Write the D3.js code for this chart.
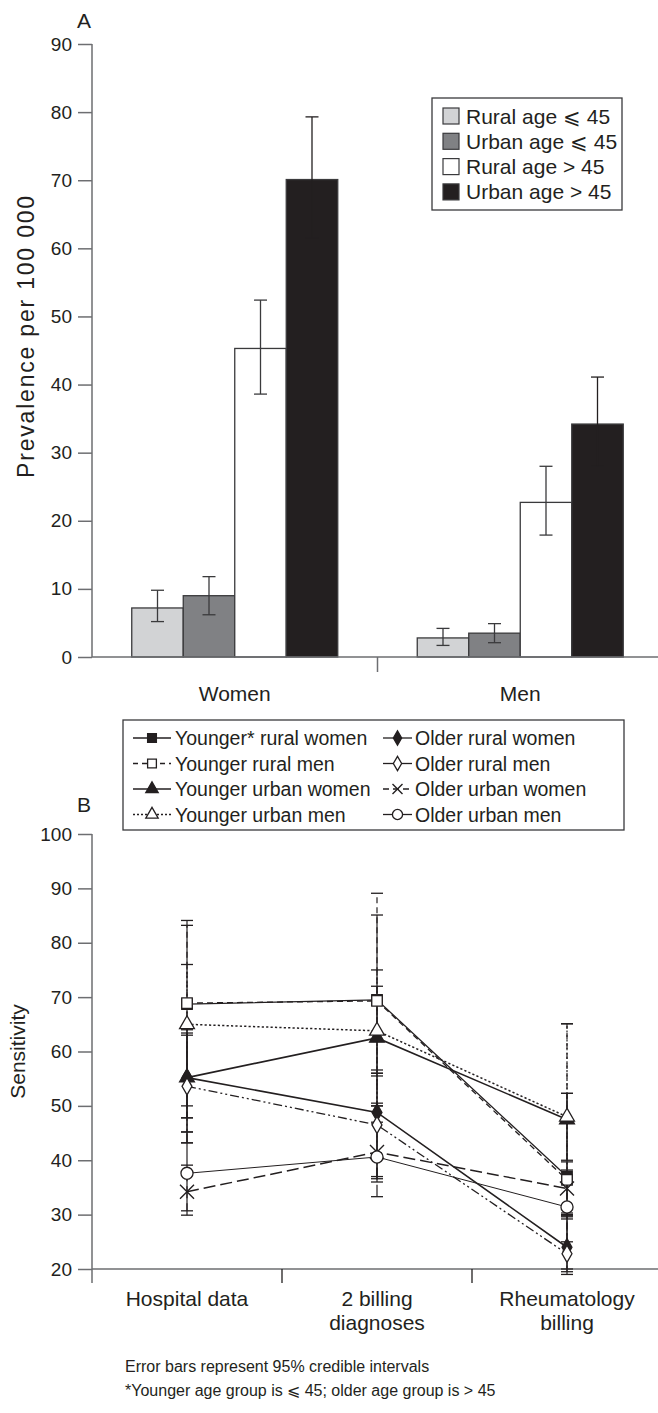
<!DOCTYPE html>
<html><head><meta charset="utf-8">
<script src="https://cdn.jsdelivr.net/npm/d3@7"></script>
<style>
html,body{margin:0;padding:0;background:#fff;}
svg text{font-family:"Liberation Sans",Arial,Helvetica,sans-serif;fill:#231f20;}
</style></head>
<body>
<script>
// ---------- Panel A data ----------
const groupsA = ["Women", "Men"];
const seriesA = ["Rural age \u2a7d 45", "Urban age \u2a7d 45", "Rural age > 45", "Urban age > 45"];
const colorsA = ["#d2d3d5", "#808184", "#ffffff", "#231f20"];
const prevWomen = [7.2, 9.0, 45.3, 70.1];
const lowWomen = [5.2, 6.2, 38.6, 61.5];
const highWomen = [9.8, 11.8, 52.4, 79.3];
const prevMen = [2.8, 3.5, 22.7, 34.2];
const lowMen = [1.7, 2.1, 17.9, 28.0];
const highMen = [4.2, 4.9, 28.0, 41.1];
const ticksA = [0, 10, 20, 30, 40, 50, 60, 70, 80, 90];

// ---------- Panel B data ----------
const categoriesB = ["Hospital data", "2 billing diagnoses", "Rheumatology billing"];
const categoryLinesB = [["Hospital data"], ["2 billing", "diagnoses"], ["Rheumatology", "billing"]];
const seriesB = ["Younger* rural women", "Younger rural men", "Younger urban women", "Younger urban men",
                 "Older rural women", "Older rural men", "Older urban women", "Older urban men"];
const valYoungerRuralWomen = [68.7, 69.5, 37.0];
const valYoungerRuralMen   = [68.9, 69.3, 36.4];
const valYoungerUrbanWomen = [55.2, 62.5, 47.5];
const valYoungerUrbanMen   = [65.0, 63.8, 48.0];
const valOlderRuralWomen   = [55.2, 48.8, 24.0];
const valOlderRuralMen     = [53.6, 46.5, 22.8];
const valOlderUrbanWomen   = [34.2, 41.5, 34.8];
const valOlderUrbanMen     = [37.6, 40.6, 31.4];
const lowYoungerRuralWomen = [47.8, 56.6, 29.6];
const highYoungerRuralWomen= [84.1, 85.1, 52.3];
const lowYoungerRuralMen   = [47.8, 56.0, 20.0];
const highYoungerRuralMen  = [83.2, 89.1, 65.1];
const lowYoungerUrbanWomen = [43.2, 50.0, 40.0];
const highYoungerUrbanWomen= [64.0, 72.0, 52.3];
const lowYoungerUrbanMen   = [50.0, 50.5, 30.3];
const highYoungerUrbanMen  = [76.0, 75.0, 65.1];
const lowOlderRuralWomen   = [45.2, 36.6, 19.5];
const highOlderRuralWomen  = [63.4, 56.0, 29.8];
const lowOlderRuralMen     = [43.2, 37.0, 19.0];
const highOlderRuralMen    = [63.0, 55.5, 29.2];
const lowOlderUrbanWomen   = [29.9, 33.3, 30.0];
const highOlderUrbanWomen  = [39.1, 50.0, 39.7];
const lowOlderUrbanMen     = [30.7, 36.0, 25.0];
const highOlderUrbanMen    = [45.2, 47.0, 38.2];
const ticksB = [20, 30, 40, 50, 60, 70, 80, 90, 100];

// ---------- build ----------
const W = 658, H = 1413;
const ink = "#231f20", axisCol = "#6d6e71";
const svg = d3.select("body").append("svg").attr("width", W).attr("height", H);

// ===== Panel A =====
const yA = d3.scaleLinear().domain([0, 90]).range([657, 44]);
const x0A = d3.scaleBand().domain(groupsA).range([92, 663]);
const barsTotal = 206;
const x1A = d3.scaleBand().domain(seriesA)
  .range([(x0A.bandwidth() - barsTotal) / 2, (x0A.bandwidth() + barsTotal) / 2]);

const gA = svg.append("g");
const yAxisA = d3.axisLeft(yA).tickValues(ticksA).tickSize(14).tickPadding(6).tickFormat(d3.format("d"));
gA.append("g").attr("transform", "translate(92,0)").call(yAxisA)
  .call(g => { g.selectAll("path,line").attr("stroke", axisCol).attr("stroke-width", 1.5);
               g.select(".domain").attr("d", `M0,${yA(90)}V${yA(0)}`);
               g.selectAll("text").style("font-size", "19px").attr("fill", ink); });

const dataA = groupsA.map((g, gi) => seriesA.map((s, si) => ({
  group: g, series: s, color: colorsA[si],
  v: gi === 0 ? prevWomen[si] : prevMen[si],
  lo: gi === 0 ? lowWomen[si] : lowMen[si],
  hi: gi === 0 ? highWomen[si] : highMen[si]
}))).flat();

const barG = gA.append("g");
barG.selectAll("rect").data(dataA).join("rect")
  .attr("x", d => x0A(d.group) + x1A(d.series))
  .attr("y", d => yA(d.v))
  .attr("width", x1A.bandwidth())
  .attr("height", d => yA(0) - yA(d.v))
  .attr("fill", d => d.color).attr("stroke", "#3a3a3c").attr("stroke-width", 1.3);

const errG = gA.append("g").attr("stroke-width", 1.3);
dataA.forEach(d => {
  const cx = x0A(d.group) + x1A(d.series) + x1A.bandwidth() / 2;
  const col = d.color === "#231f20" ? ink : "#3a3a3c";
  errG.append("line").attr("x1", cx).attr("x2", cx).attr("y1", yA(d.lo)).attr("y2", yA(d.hi)).attr("stroke", col);
  errG.append("line").attr("x1", cx - 6.5).attr("x2", cx + 6.5).attr("y1", yA(d.hi)).attr("y2", yA(d.hi)).attr("stroke", col);
  errG.append("line").attr("x1", cx - 6.5).attr("x2", cx + 6.5).attr("y1", yA(d.lo)).attr("y2", yA(d.lo)).attr("stroke", col);
});

// x axis A
const xAxisA = gA.append("g");
xAxisA.append("line").attr("x1", 92).attr("x2", W).attr("y1", yA(0)).attr("y2", yA(0))
  .attr("stroke", axisCol).attr("stroke-width", 1.5);
xAxisA.append("line").attr("x1", x0A("Men")).attr("x2", x0A("Men")).attr("y1", yA(0)).attr("y2", yA(0) + 15)
  .attr("stroke", axisCol).attr("stroke-width", 1.5);
groupsA.forEach(g => {
  gA.append("text").attr("x", x0A(g) + x0A.bandwidth() / 2).attr("y", 701)
    .attr("text-anchor", "middle").style("font-size", "21px").text(g);
});
gA.append("text").attr("x", 77).attr("y", 28).style("font-size", "21px").text("A");
gA.append("text").attr("transform", `translate(34,336) rotate(-90)`)
  .attr("text-anchor", "middle").style("font-size", "23px").style("letter-spacing", "1.8px")
  .text("Prevalence per 100 000");

// legend A
const legA = gA.append("g");
legA.append("rect").attr("x", 432).attr("y", 98).attr("width", 190).attr("height", 112)
  .attr("fill", "#fff").attr("stroke", "#3a3a3c").attr("stroke-width", 1.3);
seriesA.forEach((s, i) => {
  const cy = 116 + i * 25.3;
  legA.append("rect").attr("x", 443).attr("y", cy - 8).attr("width", 16).attr("height", 16)
    .attr("fill", colorsA[i]).attr("stroke", "#3a3a3c").attr("stroke-width", 1.2);
  legA.append("text").attr("x", 466).attr("y", cy + 7.5).style("font-size", "21px").text(s);
});

// ===== Panel B =====
const yB = d3.scaleLinear().domain([20, 100]).range([1269, 834]);
const xB = d3.scaleBand().domain(categoriesB).range([92, 662]);
const gB = svg.append("g");

const yAxisB = d3.axisLeft(yB).tickValues(ticksB).tickSize(14).tickPadding(6).tickFormat(d3.format("d"));
gB.append("g").attr("transform", "translate(92,0)").call(yAxisB)
  .call(g => { g.selectAll("path,line").attr("stroke", axisCol).attr("stroke-width", 1.5);
               g.select(".domain").attr("d", `M0,${yB(100)}V${yB(20) + 14}`);
               g.selectAll("text").style("font-size", "19px").attr("fill", ink); });
const xAxB = gB.append("g");
xAxB.append("line").attr("x1", 92).attr("x2", W).attr("y1", yB(20)).attr("y2", yB(20))
  .attr("stroke", axisCol).attr("stroke-width", 1.5);
categoriesB.slice(1).forEach(c => {
  xAxB.append("line").attr("x1", xB(c)).attr("x2", xB(c)).attr("y1", yB(20)).attr("y2", yB(20) + 14)
    .attr("stroke", ink).attr("stroke-width", 1.3);
});
categoriesB.forEach((c, i) => {
  const t = gB.append("text").attr("x", xB(c) + xB.bandwidth() / 2).attr("y", 1306)
    .attr("text-anchor", "middle").style("font-size", "21px");
  categoryLinesB[i].forEach((ln, j) => t.append("tspan").attr("x", xB(c) + xB.bandwidth() / 2).attr("dy", j === 0 ? 0 : 24).text(ln));
});
gB.append("text").attr("x", 77).attr("y", 812).style("font-size", "21px").text("B");
gB.append("text").attr("transform", `translate(25,${(yB(20) + yB(100)) / 2}) rotate(-90)`)
  .attr("text-anchor", "middle").style("font-size", "21px").text("Sensitivity");

// symbols
const xPath = s => `M${-s},${-s}L${s},${s}M${-s},${s}L${s},${-s}`;
const styleB = [
  { sym: d3.symbolSquare, size: 110, fill: ink, dash: null, w: 1.3 },
  { sym: d3.symbolSquare, size: 110, fill: "#fff", dash: "6,4", w: 1.3 },
  { sym: d3.symbolTriangle, size: 95, fill: ink, dash: null, w: 1.6 },
  { sym: d3.symbolTriangle, size: 95, fill: "#fff", dash: "2.2,2.2", w: 1.5 },
  { sym: d3.symbolDiamond, size: 85, fill: ink, dash: null, w: 1.6 },
  { sym: d3.symbolDiamond, size: 85, fill: "#fff", dash: "9,3,2,3,2,3", w: 1.3 },
  { sym: "x", size: 7, fill: "none", dash: "12,5", w: 1.5 },
  { sym: d3.symbolCircle, size: 115, fill: "#fff", dash: null, w: 1.0 }
];
const valsB = [valYoungerRuralWomen, valYoungerRuralMen, valYoungerUrbanWomen, valYoungerUrbanMen,
               valOlderRuralWomen, valOlderRuralMen, valOlderUrbanWomen, valOlderUrbanMen];
const lowsB = [lowYoungerRuralWomen, lowYoungerRuralMen, lowYoungerUrbanWomen, lowYoungerUrbanMen,
               lowOlderRuralWomen, lowOlderRuralMen, lowOlderUrbanWomen, lowOlderUrbanMen];
const highsB = [highYoungerRuralWomen, highYoungerRuralMen, highYoungerUrbanWomen, highYoungerUrbanMen,
                highOlderRuralWomen, highOlderRuralMen, highOlderUrbanWomen, highOlderUrbanMen];
const cx = c => xB(c) + xB.bandwidth() / 2;
const line = d3.line().x(d => cx(d.c)).y(d => yB(d.v));

const drawSym = (g, st, x, y) => {
  if (st.sym === "x") {
    g.append("path").attr("d", xPath(st.size)).attr("transform", `translate(${x},${y})`)
      .attr("stroke", ink).attr("stroke-width", 1.4).attr("fill", "none");
  } else {
    g.append("path").attr("d", d3.symbol().type(st.sym).size(st.size)())
      .attr("transform", `translate(${x},${y})`)
      .attr("fill", st.fill).attr("stroke", ink).attr("stroke-width", 1.3);
  }
};

const linesG = gB.append("g"), errBG = gB.append("g"), symG = gB.append("g");
seriesB.forEach((s, i) => {
  const st = styleB[i];
  const pts = categoriesB.map((c, k) => ({ c, v: valsB[i][k], lo: lowsB[i][k], hi: highsB[i][k] }));
  linesG.append("path").attr("d", line(pts)).attr("fill", "none").attr("stroke", ink)
    .attr("stroke-width", st.w).attr("stroke-dasharray", st.dash);
  pts.forEach(p => {
    const x = cx(p.c);
    errBG.append("line").attr("x1", x).attr("x2", x).attr("y1", yB(p.lo)).attr("y2", yB(p.hi))
      .attr("stroke", ink).attr("stroke-width", 1.2).attr("stroke-dasharray", st.dash);
    [p.lo, p.hi].forEach(v => errBG.append("line").attr("x1", x - 6).attr("x2", x + 6)
      .attr("y1", yB(v)).attr("y2", yB(v)).attr("stroke", ink).attr("stroke-width", 1.3));
    drawSym(symG, st, x, yB(p.v));
  });
});

// legend B
const legB = gB.append("g");
legB.append("rect").attr("x", 123).attr("y", 720).attr("width", 501).attr("height", 110)
  .attr("fill", "#fff").attr("stroke", "#3a3a3c").attr("stroke-width", 1.3);
seriesB.forEach((s, i) => {
  const col = Math.floor(i / 4), row = i % 4;
  const cy = 738 + row * 25.5;
  const x0 = col === 0 ? 133 : 383, x1 = col === 0 ? 171 : 412;
  const st = styleB[i];
  legB.append("line").attr("x1", x0).attr("x2", x1).attr("y1", cy).attr("y2", cy)
    .attr("stroke", ink).attr("stroke-width", 1.3)
    .attr("stroke-dasharray", i === 1 ? "5,4" : (i === 3 ? "2,2" : (i === 6 ? "6,4" : null)));
  drawSym(legB, i === 6 ? { sym: "x", size: 5 } : { ...st, size: st.size * 0.7 }, (x0 + x1) / 2, cy);
  legB.append("text").attr("x", col === 0 ? 175 : 415).attr("y", cy + 7).style("font-size", "19.5px").text(s);
});

// footnotes
svg.append("text").attr("x", 125).attr("y", 1372).style("font-size", "16px").text("Error bars represent 95% credible intervals");
svg.append("text").attr("x", 125).attr("y", 1396).style("font-size", "16px").text("*Younger age group is \u2a7d 45; older age group is > 45");
</script>
</body></html>
